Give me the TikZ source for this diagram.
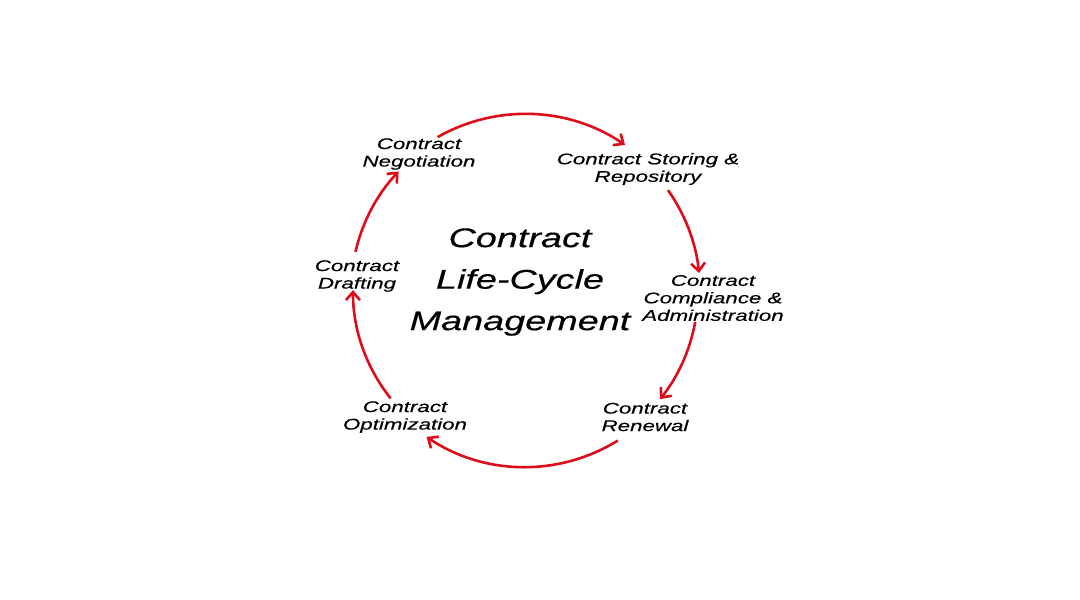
\documentclass[tikz,border=0pt]{standalone}
\usepackage{fontspec}
\setmainfont{Liberation Sans}
\newfontfamily\lblfont{Liberation Sans}[FakeStretch=1.44,FakeBold=0.4]
\newfontfamily\bigfont{Liberation Sans}[FakeStretch=1.40,FakeBold=0.4]
\usetikzlibrary{arrows.meta}
\definecolor{arcred}{RGB}{222,12,26}
\begin{document}
\begin{tikzpicture}[x=1pt,y=-1pt,
  lbl/.style={font=\lblfont\fontsize{15.5}{17.5}\selectfont\itshape, align=center, inner sep=0pt},
  big/.style={font=\bigfont\fontsize{27}{41.5}\selectfont\itshape, align=center, inner sep=0pt},
  cyc/.style={draw=arcred, line width=2.6pt, -{Straight Barb[length=8pt,width=14pt,line width=2.6pt]}}]
\useasboundingbox[fill=white] (0,0) rectangle (1080,600);
\coordinate (C) at (525,291);
\node[lbl] (neg) at (419,154) {Contract\\Negotiation};
\node[lbl] (sto) at (648,169) {Contract Storing \&\\Repository};
\node[lbl] (com) at (713,298) {Contract\\Compliance \&\\Administration};
\node[lbl] (ren) at (645,417) {Contract\\Renewal};
\node[lbl] (opt) at (405,417) {Contract\\Optimization};
\node[lbl] (dra) at (357,276) {Contract\\Drafting};
\node[big] (title) at (520,282) {Contract\\Life-Cycle\\Management};
% arc start points (named) on the cycle circle
\path (C) ++(-119.6:177) coordinate (s1);
\path (C) ++(-35.2:175) coordinate (s2);
\path (C) ++(10.3:173) coordinate (s3);
\path (C) ++(58.2:176) coordinate (s4);
\path (C) ++(141.4:172) coordinate (s5);
\path (C) ++(-167:174) coordinate (s6);
\draw[cyc] (s1) arc[start angle=-119.6, end angle=-55.6, radius=177];
\draw[cyc] (s2) arc[start angle=-35.2, end angle=-5.9, radius=175];
\draw[cyc] (s3) arc[start angle=10.3, end angle=38.7, radius=173];
\draw[cyc] (s4) arc[start angle=58.2, end angle=124, radius=176];
\draw[cyc] (s5) arc[start angle=141.4, end angle=180.3, radius=172];
\draw[cyc] (s6) arc[start angle=-167, end angle=-136.6, radius=174];
\end{tikzpicture}
\end{document}
